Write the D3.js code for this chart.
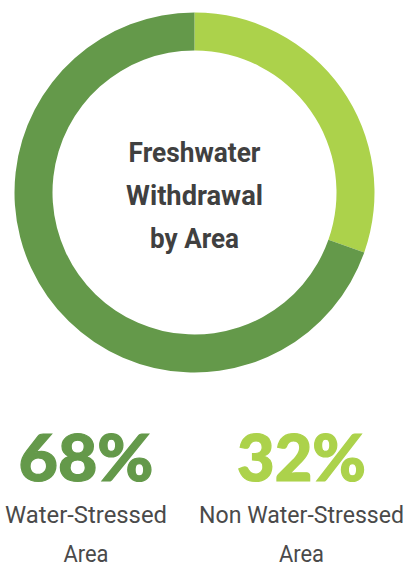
<!DOCTYPE html>
<html>
<head>
<meta charset="utf-8">
<script src="https://cdn.jsdelivr.net/npm/d3@7"></script>
<style>
  html, body { margin: 0; padding: 0; background: #fff; }
  svg { display: block; }
</style>
</head>
<body>
<svg id="chart" width="414" height="567"></svg>
<script>
// data
const categories = ['Non Water-Stressed Area', 'Water-Stressed Area']
const arcShares = [30.4, 69.6] // share of the ring as drawn, clockwise from top
const percentLabels = ['32%', '68%']
const colors = ['#acd24b', '#64994a']
const titleLines = ['Freshwater', 'Withdrawal', 'by Area']

// widths the condensed reference type occupies
const fitWidth = {
  'Freshwater': 132, 'Withdrawal': 137, 'by Area': 89,
  '68%': 135, '32%': 129,
  'Water-Stressed': 162, 'Non Water-Stressed': 205, 'Area': 45
}

const svg = d3.select('#chart')
const cx = 194.5
const cy = 192.5

const pie = d3.pie().sort(null).value(d => d)
const arc = d3.arc().innerRadius(142).outerRadius(180)

const ring = svg.append('g').attr('transform', `translate(${cx},${cy})`)
ring.selectAll('path')
  .data(pie(arcShares))
  .join('path')
  .attr('d', arc)
  .attr('fill', (d, i) => colors[i])

// squeeze or stretch a centred text horizontally to the reference width
function fit (sel) {
  sel.each(function (d) {
    const w = fitWidth[d]
    if (!w) return
    const el = d3.select(this)
    const x = +el.attr('x') || 0
    const y = +el.attr('y') || 0
    const k = w / this.getComputedTextLength()
    el.attr('x', 0).attr('y', 0)
      .attr('transform', `translate(${x},${y}) scale(${k},1)`)
  })
}

// centre title
ring.append('g')
  .selectAll('text')
  .data(titleLines)
  .join('text')
  .attr('x', 0)
  .attr('y', (d, i) => -31 + i * 43)
  .attr('text-anchor', 'middle')
  .attr('font-family', 'Roboto, sans-serif')
  .attr('font-weight', 700)
  .attr('font-size', 28)
  .attr('fill', '#404040')
  .text(d => d)
  .call(fit)

// legend blocks under the ring: water-stressed on the left
const blocks = [
  { pct: percentLabels[1], name: categories[1], color: colors[1], x: 86 },
  { pct: percentLabels[0], name: categories[0], color: colors[0], x: 301.5 }
]

const g = svg.append('g')
  .selectAll('g')
  .data(blocks)
  .join('g')
  .attr('transform', d => `translate(${d.x},0)`)

g.append('text')
  .datum(d => d.pct)
  .attr('y', 481)
  .attr('text-anchor', 'middle')
  .attr('font-family', 'Lato, "Noto Sans", sans-serif')
  .attr('font-weight', 900)
  .attr('font-size', 64)
  .attr('fill', (d, i, n) => d3.select(n[i].parentNode).datum().color)
  .attr('stroke', (d, i, n) => d3.select(n[i].parentNode).datum().color)
  .attr('stroke-width', 1.2)
  .text(d => d)
  .call(fit)

g.each(function (d) {
  const words = d.name.split(' ')
  const last = words.pop()
  const lines = [words.join(' '), last]
  d3.select(this).selectAll('text.lbl')
    .data(lines)
    .join('text')
    .attr('class', 'lbl')
    .attr('y', (l, i) => 523 + i * 39)
    .attr('text-anchor', 'middle')
    .attr('font-family', 'Roboto, sans-serif')
    .attr('font-size', 24.5)
    .attr('fill', '#4a4a4a')
    .text(l => l)
    .call(fit)
})
</script>
</body>
</html>
